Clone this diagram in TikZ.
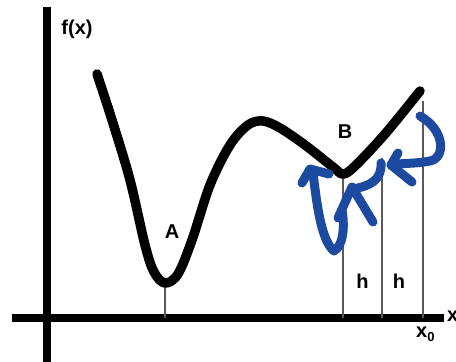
\documentclass[tikz,border=0pt]{standalone}
\usepackage{fontspec}
\setmainfont{Liberation Sans}
\definecolor{pen}{RGB}{28,74,160}
\definecolor{guide}{RGB}{90,90,90}
\begin{document}
\begin{tikzpicture}[x=1pt,y=-1pt,
  axisline/.style={line width=8.3pt},
  curveline/.style={line width=9.5pt,line cap=round,line join=round},
  guideline/.style={guide,line width=1.3pt},
  penline/.style={pen,line width=9pt,line cap=round,line join=round},
  lbl/.style={font=\fontsize{20}{22}\selectfont\bfseries,inner sep=0pt}]
\useasboundingbox (0,0) rectangle (456,362);
% axes
\draw[axisline] (47,7) -- (47,362);
\draw[axisline] (12,318) -- (444,318);
% guides
\draw[guideline] (165,285) -- (165,318);
\draw[guideline] (343,178) -- (343,318);
\draw[guideline] (382,158) -- (382,318);
\draw[guideline] (423,101) -- (423,318);
% curve
\draw[curveline] plot[smooth,tension=0.55] coordinates {
 (97,74) (112,120) (130,180) (145,245) (154,272) (165,283) (178,274) (192,240)
 (210,185) (230,145) (248,125) (263,121) (280,128) (305,145) (333,167) (343,174)
 (355,166) (385,134) (420,91)};
% blue strokes
\draw[penline] (302,183) -- (310,169) -- (329,174);
\draw[penline] (313,173) .. controls (317,205) and (321,240) .. (334,251)
   .. controls (343,246) and (345,228) .. (342,210);
\draw[penline] (338,218) -- (352,187) -- (373,222);
\draw[penline] (381,163) .. controls (382,180) and (370,186) .. (353,189);
\draw[penline] (420,116) .. controls (445,130) and (446,158) .. (430,161)
   .. controls (415,164) and (400,163) .. (391,165);
\draw[penline] (398,153) -- (391,165) -- (412,182);
% labels
\node[lbl] (fx) at (77,29) {f(x)};
\node[lbl] (A) at (172,232) {A};
\node[lbl] (B) at (345,132) {B};
\node[lbl] (h1) at (362.5,281) {h};
\node[lbl] (h2) at (399,281) {h};
\node[lbl,anchor=west] (xl) at (447,316) {x};
\node[lbl,anchor=base west] (x0) at (416,337) {x\raisebox{-4pt}{\fontsize{13}{13}\selectfont 0}};
\end{tikzpicture}
\end{document}
